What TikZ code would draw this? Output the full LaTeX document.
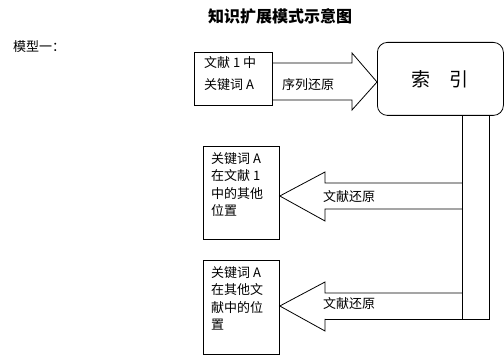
\documentclass[tikz,border=0pt]{standalone}
\usepackage{fontspec}
\setmainfont{Noto Sans CJK SC}
\usetikzlibrary{calc}
\tikzset{
  box/.style={draw=black, line width=0.8pt, rectangle, inner sep=0pt},
  txt/.style={inner sep=0pt, align=left, font=\fontsize{13}{17.5}\selectfont},
  outline/.style={draw=black, line width=0.8pt, line join=miter},
}
\begin{document}
\begin{tikzpicture}[x=1pt, y=-1pt]
\useasboundingbox (0,0) rectangle (504,355);
% title
\node[inner sep=0pt, font=\fontsize{16}{16}\selectfont\bfseries] (title) at (280,16) {知识扩展模式示意图};
\node[txt, anchor=west] (model) at (13,47) {模型一：};
% top-left box
\node[box, minimum width=78, minimum height=53, anchor=north west] (src) at (194,52) {};
\node[txt, anchor=north west, font=\fontsize{13}{22}\selectfont] (srct) at ($(src.north west)+(10,4)$) {文献 1 中\\关键词 A};
% index box
\node[box, rounded corners=10pt, minimum width=126, minimum height=73, anchor=north west, font=\fontsize{19}{19}\selectfont] (idx) at (377,42) {索　引};
% middle box
\node[box, minimum width=76, minimum height=93, anchor=north west] (mid) at (203,146) {};
\node[txt, anchor=north west] (midt) at ($(mid.north west)+(8,6)$) {关键词 A\\在文献 1\\中的其他\\位置};
% bottom box
\node[box, minimum width=76, minimum height=94, anchor=north west] (bot) at (203,260) {};
\node[txt, anchor=north west] (bott) at ($(bot.north west)+(8,6)$) {关键词 A\\在其他文\\献中的位\\置};
% right arrow
\coordinate (rtip) at (idx.west |- 0,82);
\draw[outline] (src.east |- 0,63) -- (352,63) -- (352,53) -- (rtip) -- (352,110) -- (352,100) -- (src.east |- 0,100);
\node[txt, anchor=west] (seq) at (282,85) {序列还原};
% channel coordinates
\coordinate (cl) at (462,0);
\coordinate (cr) at (489,0);
% channel lines
\draw[outline] (cl |- idx.south) -- (462,319);
\draw[outline] (cr |- idx.south) -- (489,319) -- (325,319);
% middle arrow
\draw[outline] (462,183) -- (325,183) -- (325,172) -- (mid.east |- 0,196) -- (325,221) -- (325,209) -- (462,209);
% bottom arrow
\draw[outline] (462,293) -- (325,293) -- (325,282) -- (bot.east |- 0,306) -- (325,331) -- (325,319);
\node[txt, anchor=west] (m1) at (323,197) {文献还原};
\node[txt, anchor=west] (m2) at (323,304) {文献还原};
\end{tikzpicture}
\end{document}
